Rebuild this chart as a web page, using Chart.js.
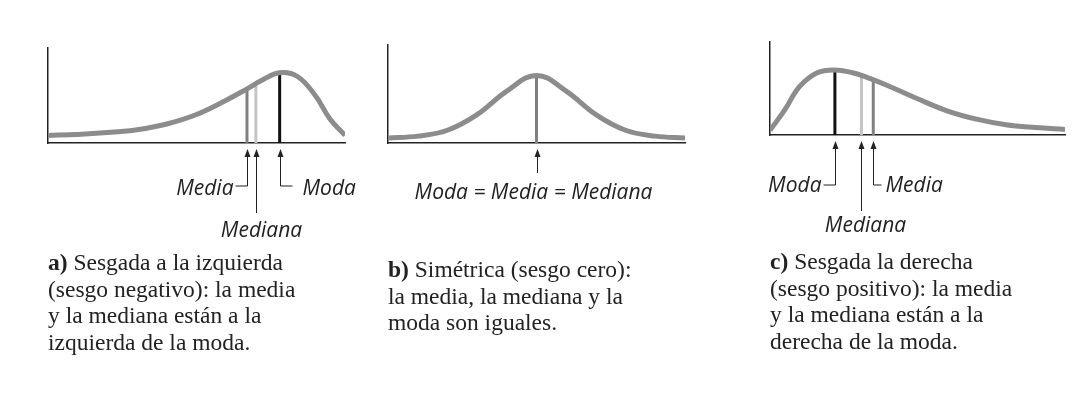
<!DOCTYPE html>
<html><head><meta charset="utf-8">
<script src="https://cdn.jsdelivr.net/npm/chart.js@4"></script>
<style>
body{margin:0;background:#fff;width:1090px;height:412px;overflow:hidden;position:relative}
canvas{position:absolute;left:0;top:0}
.cap{position:absolute;font:23.5px "Liberation Serif",serif;line-height:26.5px;color:#222}
</style></head><body>
<canvas id="ca" width="1090" height="412"></canvas>
<canvas id="cb" width="1090" height="412"></canvas>
<canvas id="cc" width="1090" height="412"></canvas>
<div class="cap" style="left:48px;top:249px"><b>a)</b> Sesgada a la izquierda<br>(sesgo negativo): la media<br>y la mediana están a la<br>izquierda de la moda.</div>
<div class="cap" style="left:388px;top:256px"><b>b)</b> Simétrica (sesgo cero):<br>la media, la mediana y la<br>moda son iguales.</div>
<div class="cap" style="left:770px;top:248px"><b>c)</b> Sesgada la derecha<br>(sesgo positivo): la media<br>y la mediana están a la<br>derecha de la moda.</div>
<script>
// curve points (x 0-100, y 0-100)
const curveA = [[0,8],[10,9],[20,11],[30,14],[40,20],[50,30],[60,45],[67,57],[72,66],[78,74],[84,70],[90,50],[95,25],[100,8]];
const curveB = [[0,5],[10,7],[20,13],[30,29],[40,53],[50,69],[60,53],[70,29],[80,13],[90,7],[100,5]];
const curveC = [[0,5],[5,27],[10,52],[16,67],[22,70],[28,67],[32,63],[40,53],[50,39],[60,26],[70,17],[80,11],[90,8],[100,6]];

// marker lines: [x, height]
const marksA = {media:[67,57], mediana:[70,62], moda:[78,74]};
const marksB = {todos:[50,69]};
const marksC = {moda:[22,70], mediana:[31,64], media:[35,59]};

const toPts = arr => arr.map(p => ({x:p[0], y:p[1]}));
const vline = (m, color) => ({data:[{x:m[0],y:0},{x:m[0],y:m[1]}], borderColor:color, borderWidth:3, pointRadius:0, tension:0});

const labelPlugin = {
  id:'labels',
  afterDraw(chart, args, opts){
    const ctx = chart.ctx, xs = chart.scales.x, base = chart.chartArea.bottom;
    ctx.save();
    ctx.strokeStyle = '#222'; ctx.fillStyle = '#222'; ctx.lineWidth = 1;
    ctx.font = 'italic 400 21px "Open Sans"';
    opts.items.forEach(it => {
      const px = Math.round(xs.getPixelForValue(it.x)) + 0.5;
      const hook = it.hook || 12;
      ctx.beginPath();
      ctx.moveTo(px, base + 8); ctx.lineTo(px, base + it.drop);
      if (it.side === 'left') ctx.lineTo(px - hook, base + it.drop);
      if (it.side === 'right') ctx.lineTo(px + hook, base + it.drop);
      ctx.stroke();
      ctx.beginPath();
      ctx.moveTo(px, base + 6); ctx.lineTo(px - 3, base + 14); ctx.lineTo(px + 3, base + 14); ctx.closePath(); ctx.fill();
      let tx, align;
      if (it.side === 'left') { tx = px - hook - 2; align = 'right'; }
      else if (it.side === 'right') { tx = px + hook + (it.gap || 8); align = 'left'; }
      else { tx = px + (it.dx || 0); align = 'center'; }
      ctx.textAlign = align; ctx.textBaseline = 'alphabetic';
      ctx.fillText(it.label, tx, base + it.ty);
    });
    ctx.restore();
  }
};

function panel(id, curve, lines, pad, items){
  new Chart(document.getElementById(id), {
    type:'line',
    data:{datasets:[
      {data:toPts(curve), borderColor:'#8c8c8c', borderWidth:5, pointRadius:0, tension:0.4},
      ...lines
    ]},
    options:{
      responsive:false, animation:false,
      layout:{padding:pad},
      plugins:{legend:{display:false}, tooltip:{enabled:false}, labels:{items}},
      scales:{
        x:{type:'linear', min:0, max:100, ticks:{display:false}, grid:{drawOnChartArea:false, drawTicks:false}, border:{color:'#222', width:1.5}},
        y:{min:0, max:100, ticks:{display:false}, grid:{drawOnChartArea:false, drawTicks:false}, border:{color:'#222', width:1.5}}
      }
    },
    plugins:[labelPlugin]
  });
}

panel('ca', curveA,
  [vline(marksA.media,'#808080'), vline(marksA.mediana,'#c4c4c4'), vline(marksA.moda,'#111')],
  {left:48, top:48, right:745, bottom:269},
  [{x:marksA.media[0], label:'Media', drop:43, side:'left', ty:52},
   {x:marksA.mediana[0], label:'Mediana', drop:70, ty:94, dx:5},
   {x:marksA.moda[0], label:'Moda', drop:43, side:'right', ty:52, gap:10}]);

panel('cb', curveB,
  [vline(marksB.todos,'#808080')],
  {left:388, top:45, right:405, bottom:269},
  [{x:marksB.todos[0], label:'Moda = Media = Mediana', drop:30, ty:56, dx:-4}]);

panel('cc', curveC,
  [vline(marksC.moda,'#111'), vline(marksC.mediana,'#c4c4c4'), vline(marksC.media,'#808080')],
  {left:770, top:42, right:25, bottom:277},
  [{x:marksC.moda[0], label:'Moda', drop:50, side:'left', ty:57},
   {x:marksC.mediana[0], label:'Mediana', drop:76, ty:97, dx:4},
   {x:marksC.media[0], label:'Media', drop:50, side:'right', ty:57, hook:8, gap:4}]);
</script>
</body></html>
